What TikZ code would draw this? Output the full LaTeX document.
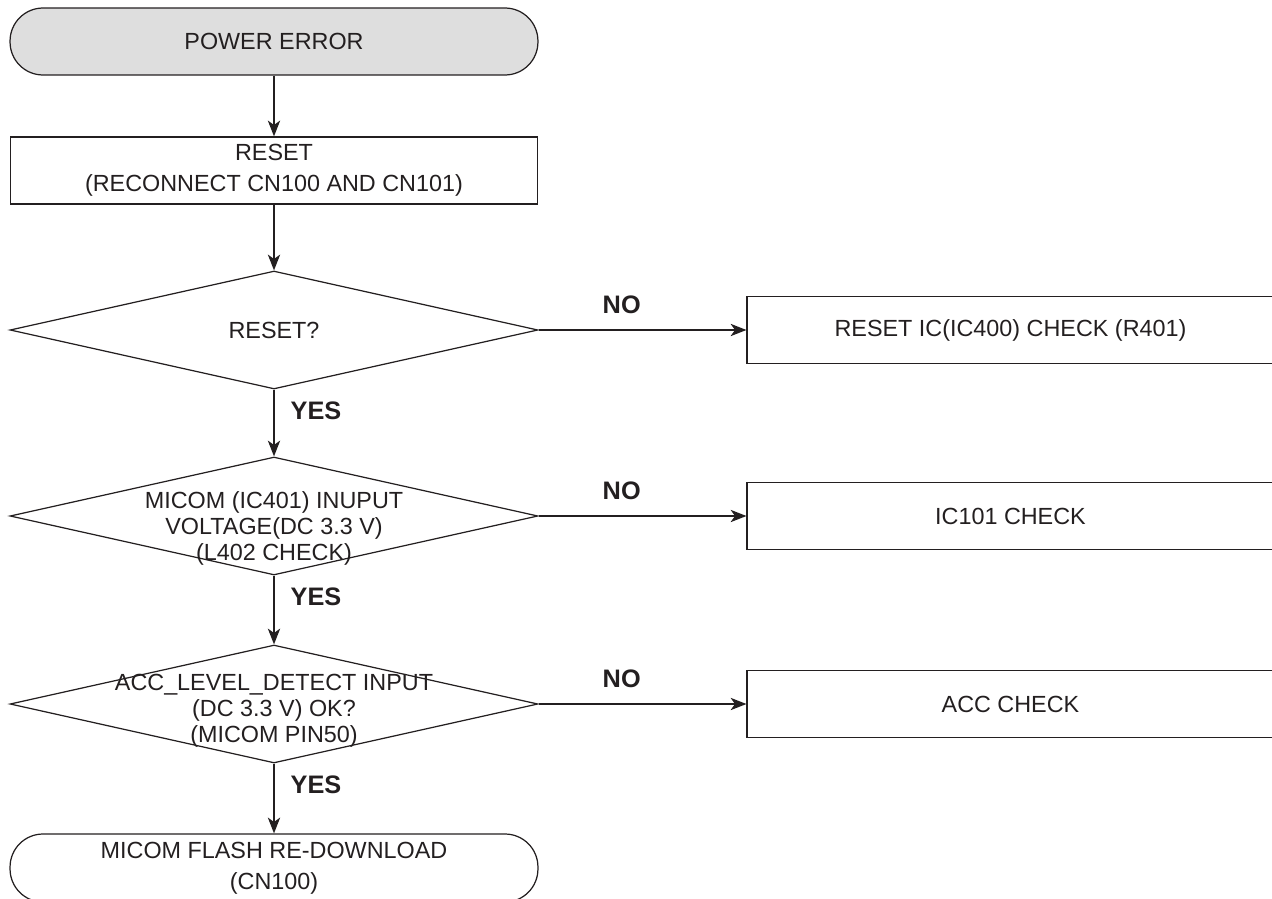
\documentclass[tikz,border=0pt]{standalone}
\usepackage{fontspec}
\setmainfont{Liberation Sans}
\usepackage{tikz}
\usetikzlibrary{arrows.meta,shapes.geometric}
\usepackage{xcolor}
\definecolor{fcink}{RGB}{35,31,32}
\definecolor{fcgray}{RGB}{222,222,222}
\tikzstyle{terminal} = [draw=fcink, line width=0.7pt, rectangle, rounded corners=0.66cm, minimum width=10.56cm, minimum height=1.34cm, inner sep=0pt, align=center, text=fcink, font=\fontsize{13.3}{17.5}\selectfont]
\tikzstyle{process} = [draw=fcink, line width=0.7pt, rectangle, minimum width=10.54cm, minimum height=1.34cm, inner sep=0pt, align=center, text=fcink, font=\fontsize{13.3}{17.5}\selectfont]
\tikzstyle{decision} = [draw=fcink, line width=0.7pt, diamond, minimum width=10.56cm, minimum height=2.36cm, inner sep=0pt]
\tikzstyle{dtext} = [align=center, text=fcink, font=\fontsize{13.3}{14.8}\selectfont]
\tikzstyle{answer} = [text=fcink, font=\fontsize{14.4}{16}\selectfont\bfseries]
\tikzstyle{arrow} = [line width=0.9pt, color=fcink, -{Stealth[length=9pt,width=7pt,inset=2.5pt]}]

\begin{document}
\begin{tikzpicture}[x=0.02cm, y=-0.02cm]
\useasboundingbox (0,0) rectangle (1272,899);
\clip (0,0) rectangle (1272,899);

% Main column
\node[terminal, fill=fcgray] (start) at (274,41.5) {POWER ERROR};
\node[process] (reset) at (274,170.5) {RESET\\(RECONNECT CN100 AND CN101)};
\node[decision] (q1) at (274,330) {};
\node[dtext] (q1t) at (q1) {RESET?};
\node[decision] (q2) at (274,516) {};
\node[dtext] (q2t) at ([yshift=-0.24cm]q2) {MICOM (IC401) INUPUT\\VOLTAGE(DC 3.3 V)\\(L402 CHECK)};
\node[decision] (q3) at (274,704) {};
\node[dtext] (q3t) at ([yshift=-0.14cm]q3) {ACC\_LEVEL\_DETECT INPUT\\(DC 3.3 V) OK?\\(MICOM PIN50)};
\node[terminal, minimum height=1.36cm] (done) at (274,868) {MICOM FLASH RE-DOWNLOAD\\(CN100)};

% Checks on the right
\node[process] (fix1) at (1010.5,330) {RESET IC(IC400) CHECK (R401)};
\node[process] (fix2) at (1010.5,516) {IC101 CHECK};
\node[process] (fix3) at (1010.5,704) {ACC CHECK};

% Connectors
\draw[arrow] (start) -- (reset);
\draw[arrow] (reset) -- (q1);
\draw[arrow] (q1) -- node[answer, pos=0.31, xshift=0.84cm] {YES} (q2);
\draw[arrow] (q2) -- node[answer, pos=0.31, xshift=0.84cm] {YES} (q3);
\draw[arrow] (q3) -- node[answer, pos=0.31, xshift=0.84cm] {YES} (done);
\draw[arrow] (q1) -- node[answer, pos=0.4, yshift=0.5cm] {NO} (fix1);
\draw[arrow] (q2) -- node[answer, pos=0.4, yshift=0.5cm] {NO} (fix2);
\draw[arrow] (q3) -- node[answer, pos=0.4, yshift=0.5cm] {NO} (fix3);
\end{tikzpicture}
\end{document}
